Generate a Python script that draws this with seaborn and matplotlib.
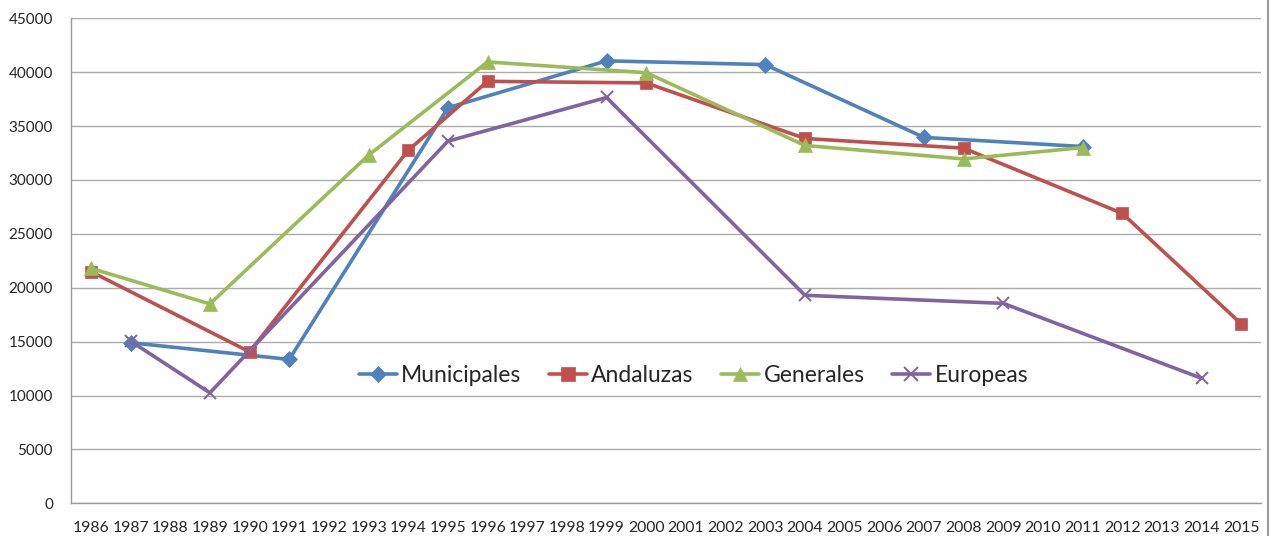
import pandas as pd
import matplotlib.pyplot as plt
import seaborn as sns
from matplotlib.lines import Line2D

# --- data ---
years = list(range(1986, 2016))

municipales_years = [1987, 1991, 1995, 1999, 2003, 2007, 2011]
municipales = [14900, 13350, 36700, 41050, 40700, 33950, 33100]

andaluzas_years = [1986, 1990, 1994, 1996, 2000, 2004, 2008, 2012, 2015]
andaluzas = [21500, 14050, 32750, 39150, 39000, 33850, 32950, 26900, 16650]

generales_years = [1986, 1989, 1993, 1996, 2000, 2004, 2008, 2011]
generales = [21800, 18500, 32300, 40950, 39950, 33200, 31950, 33000]

europeas_years = [1987, 1989, 1995, 1999, 2004, 2009, 2014]
europeas = [15050, 10250, 33600, 37650, 19300, 18550, 11600]

series = [
    ("Municipales", municipales_years, municipales, "#4F81BD", "D", 8),
    ("Andaluzas", andaluzas_years, andaluzas, "#C0504D", "s", 9),
    ("Generales", generales_years, generales, "#9BBB59", "^", 10),
    ("Europeas", europeas_years, europeas, "#8064A2", "x", 9),
]

sns.set_style("white")
plt.rcParams['font.family'] = ['Lato', 'DejaVu Sans']

fig = plt.figure(figsize=(12.71, 5.36), dpi=100)
ax = fig.add_axes([0.0559, 0.061, 0.9363, 0.9049])

for name, xs, ys, color, marker, ms in series:
    df = pd.DataFrame({"Year": xs, "Value": ys})
    sns.lineplot(data=df, x="Year", y="Value", ax=ax, color=color, linewidth=2.6,
                 marker=marker, markersize=ms, markeredgecolor=color,
                 markeredgewidth=1.4 if marker == "x" else 0.5, label=name)

ax.set_xlim(years[0] - 0.5, years[-1] + 0.5)
ax.set_xticks(years)
ax.set_xticklabels([str(y) for y in years], fontsize=11.3)
ax.set_ylim(0, 45000)
ax.set_yticks(range(0, 45001, 5000))
ax.set_yticklabels([str(v) for v in range(0, 45001, 5000)], fontsize=11)
ax.yaxis.grid(True, color="#ababab", linewidth=1)
ax.xaxis.grid(False)
ax.set_xlabel("")
ax.set_ylabel("")
ax.tick_params(axis="x", length=0, pad=13)
ax.tick_params(axis="y", length=0, pad=13)
for side in ["top", "right"]:
    ax.spines[side].set_visible(False)
for side in ["left", "bottom"]:
    ax.spines[side].set_color("#9a9a9a")
    ax.spines[side].set_linewidth(1)

ax.legend(loc="center", bbox_to_anchor=(0.523, 0.263), ncol=4, frameon=False,
          fontsize=16.5, handlelength=1.65, columnspacing=1.2, handletextpad=0.2,
          markerscale=1.05)

# chart-area border on the right
fig.add_artist(Line2D([0.998, 0.998], [0, 1], color="#9a9a9a", linewidth=1.5))

fig.savefig("out.png", dpi=100)
